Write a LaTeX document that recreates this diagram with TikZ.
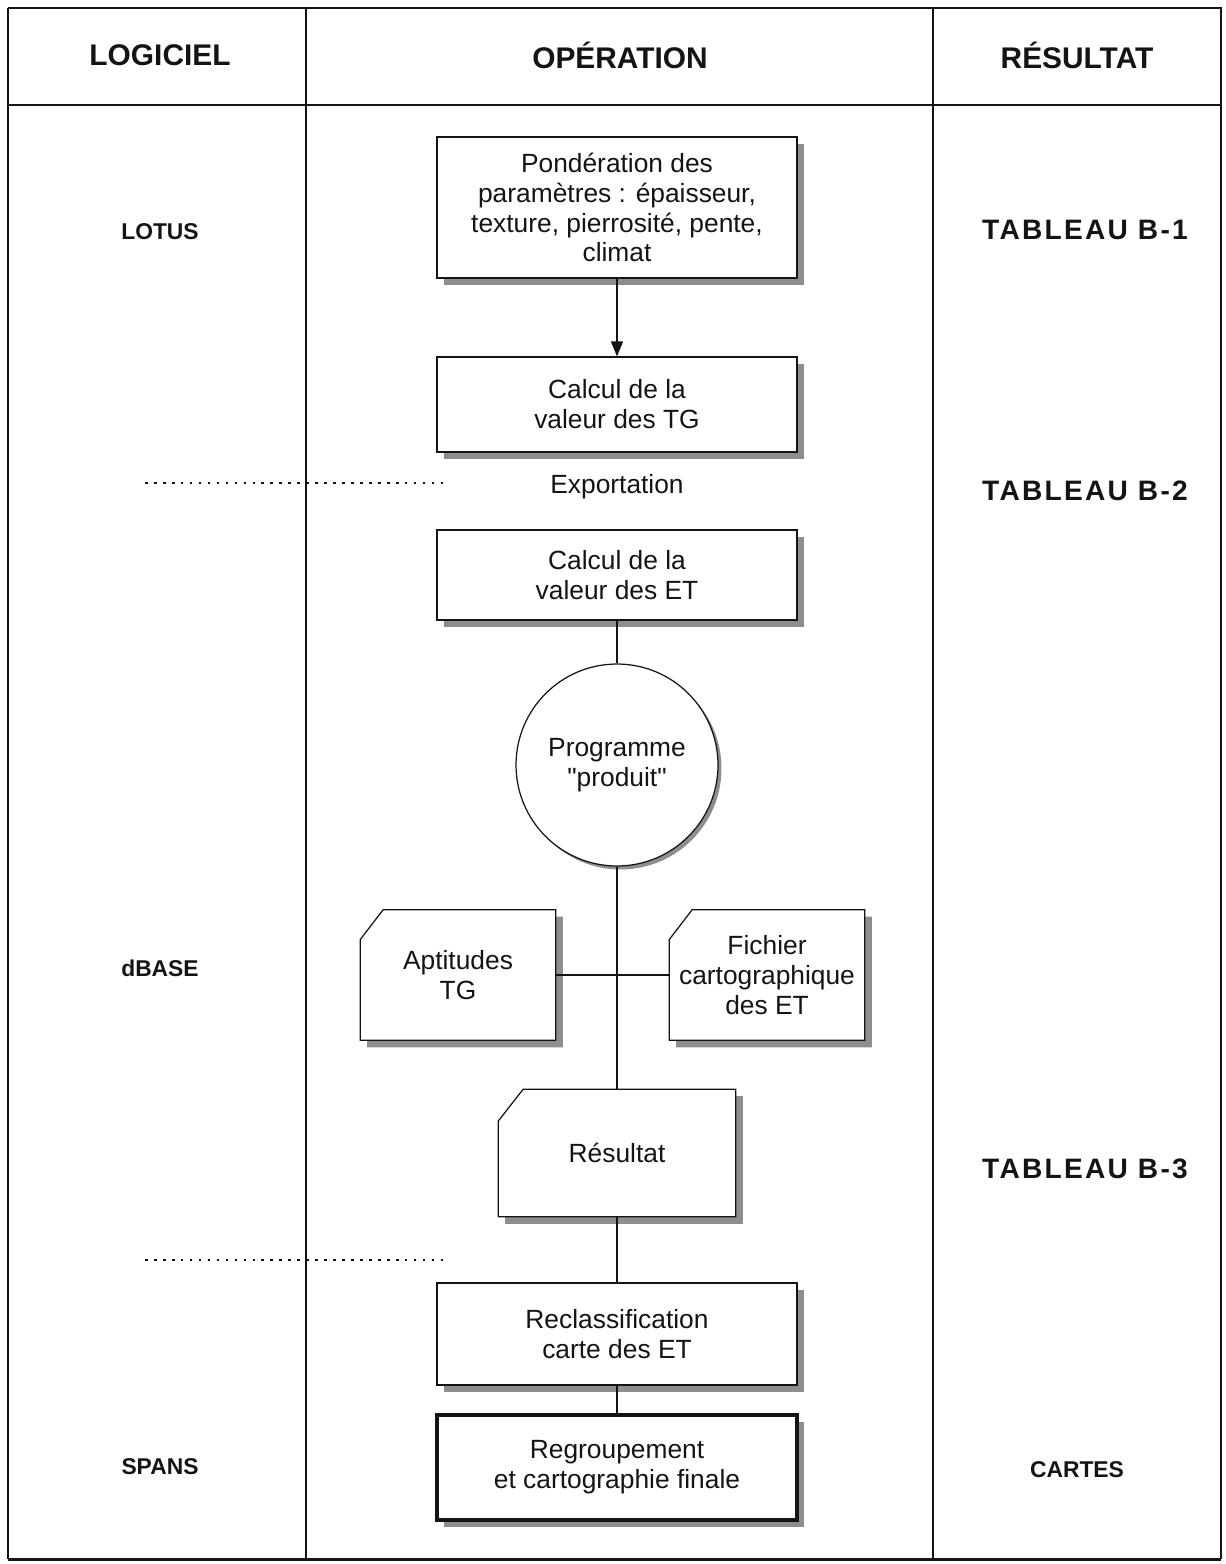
\documentclass[tikz,border=0pt]{standalone}
\usepackage{fontspec}
\setmainfont{Liberation Sans}[Ligatures=TeXOff]
\newfontfamily\tabfont[LetterSpace=8]{Liberation Sans}
\usetikzlibrary{arrows.meta, positioning, calc, shadows, backgrounds}
\definecolor{ink}{HTML}{141414}
\definecolor{hatch}{HTML}{8E8E8E}

% outline of a card with its top-left corner cut off
\newcommand{\cardoutline}[3]{%
  \begin{scope}[on background layer]
    \draw[cardline] ($(#1.north west)+(#2,0)$) -- (#1.north east)
      -- (#1.south east) -- (#1.south west)
      -- ($(#1.north west)+(0,#3)$) -- cycle;
  \end{scope}}

\begin{document}
\begin{tikzpicture}[
  x=0.02cm, y=-0.02cm,
  >={Triangle[length=3mm, width=2.4mm]},
  every node/.style={text=ink},
  headtxt/.style={font=\fontsize{17}{20}\selectfont\bfseries},
  softtxt/.style={font=\fontsize{13}{16}\selectfont\bfseries},
  tabtxt/.style={font=\fontsize{16}{18}\selectfont\tabfont\bfseries},
  bodytxt/.style={font=\fontsize{15}{17}\selectfont, align=center},
  shade/.style={drop shadow={shadow xshift=0.14cm, shadow yshift=-0.14cm,
    fill=hatch, opacity=1}},
  procbox/.style={bodytxt, draw=ink, line width=0.7pt, fill=white,
    minimum width=7.2cm, inner sep=2pt, shade},
  cardnode/.style={bodytxt, rectangle, minimum width=3.9cm,
    minimum height=2.6cm, inner sep=2pt},
  cardline/.style={draw=ink, line width=0.7pt, fill=white, shade},
  wire/.style={draw=ink, line width=0.8pt},
  rule/.style={draw=ink, line width=0.8pt},
  dotrule/.style={draw=ink, line width=1.4pt, dash pattern=on 1.5pt off 3.6pt},
]

% Dimensions (in pixels of the page, 1px = 0.02cm)
\pgfmathsetmacro{\lft}{8}        % left border
\pgfmathsetmacro{\rgt}{1221}     % right border
\pgfmathsetmacro{\tp}{8}         % top border
\pgfmathsetmacro{\bot}{1559}     % bottom border
\pgfmathsetmacro{\colA}{306}     % first column rule
\pgfmathsetmacro{\colB}{933}     % second column rule
\pgfmathsetmacro{\midx}{617}     % axis of the flow chart

\useasboundingbox (0,0) rectangle (1225,1564);

% --- Table frame ---
\draw[rule, line width=1pt] (\lft,\tp) -- (\rgt,\tp) -- (\rgt,\bot);
\draw[rule, line width=1pt] (\lft,\tp) -- (\lft,\bot);
\draw[rule, line width=1.7pt] (\lft,\bot) -- (\rgt,\bot);
\draw[rule] (\lft,105) -- (\rgt,105);
\draw[rule] (\colA,\tp) -- (\colA,\bot);
\draw[rule] (\colB,\tp) -- (\colB,\bot);

% --- Headers ---
\node[headtxt] (hlog) at (160,55) {LOGICIEL};
\node[headtxt] (hop) at (620,55) {OPÉRATION};
\node[headtxt] (hres) at (1077,55) {RÉSULTAT};

% --- Software column ---
\node[softtxt] (lotus) at (160,232) {LOTUS};
\node[softtxt] (dbase) at (160,968) {dBASE};
\node[softtxt] (spans) at (160,1467) {SPANS};

% --- Result column ---
\node[tabtxt] (tabone) at (1085,230) {TABLEAU B-1};
\node[tabtxt] (tabtwo) at (1085,491) {TABLEAU B-2};
\node[tabtxt] (tabthree) at (1085,1169) {TABLEAU B-3};
\node[softtxt] (cartes) at (1077,1470) {CARTES};

% --- Separators ---
\draw[dotrule] (145,483) -- (445,483);
\draw[dotrule] (145,1260) -- (445,1260);

% --- Operations ---
\node[procbox, minimum height=2.82cm] (pond) at (\midx,207.5)
  {Pondération des\\paramètres : épaisseur,\\texture, pierrosité, pente,\\climat};
\node[procbox, minimum height=1.9cm] (tgcalc) at (\midx,404.5)
  {Calcul de la\\valeur des TG};
\node[bodytxt] (export) at (\midx,487) {Exportation};
\node[procbox, minimum height=1.8cm] (etcalc) at (\midx,575)
  {Calcul de la\\valeur des ET};
\node[bodytxt, circle, draw=ink, line width=0.7pt, fill=white,
  minimum size=4.04cm, inner sep=0pt,
  drop shadow={shadow xshift=0.07cm, shadow yshift=-0.07cm, fill=hatch, opacity=1}]
  (prog) at (\midx,765) {Programme\\"produit"};

% --- Cards ---
\node[cardnode] (apt) at (458,975) {Aptitudes\\TG};
\cardoutline{apt}{23}{30}
\node[cardnode] (fich) at (767,975) {Fichier\\cartographique\\des ET};
\cardoutline{fich}{23}{30}
\node[cardnode, minimum width=4.74cm, minimum height=2.54cm] (res) at (\midx,1153)
  {Résultat};
\cardoutline{res}{25}{32}

\node[procbox, minimum height=2.04cm] (recl) at (\midx,1334)
  {Reclassification\\carte des ET};
\node[procbox, minimum height=2.1cm, line width=2pt] (regr) at (\midx,1467.5)
  {Regroupement\\et cartographie finale};

% --- Connectors ---
\draw[wire, ->] (pond) -- (tgcalc);
\draw[wire] (etcalc) -- (prog);
\draw[wire] (prog) -- (res);
\draw[wire] (apt) -- (fich);
\draw[wire] (res) -- (recl);
\draw[wire] (recl) -- (regr);

\end{tikzpicture}
\end{document}
